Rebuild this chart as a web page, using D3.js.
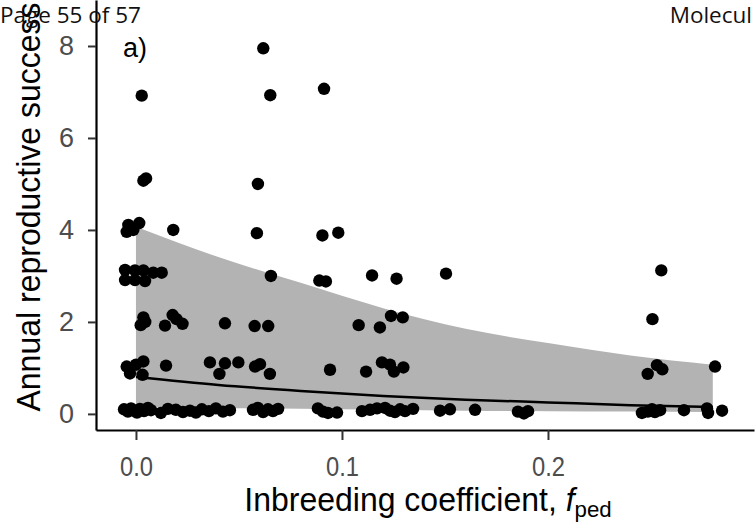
<!DOCTYPE html>
<html>
<head>
<meta charset="utf-8">
<script src="https://cdn.jsdelivr.net/npm/d3@7.9.0/dist/d3.min.js"></script>
<style>
  body { margin: 0; background: #fff; }
  svg { display: block; }
  .sans { font-family: "Liberation Sans", Arial, sans-serif; }
</style>
</head>
<body>
<svg id="chart" width="755" height="524"></svg>
<script>
// fitted curve and its band at a few f values
const bandF = [0, 0.04, 0.08, 0.12, 0.16, 0.2, 0.24, 0.28];
const fitMean = [0.80, 0.63, 0.50, 0.39, 0.31, 0.25, 0.19, 0.15];
const bandLow = [0.15, 0.13, 0.11, 0.09, 0.07, 0.06, 0.05, 0.04];
const bandHigh = [4.07, 3.41, 2.85, 2.30, 1.85, 1.54, 1.27, 1.07];

// individual points (jittered as in the figure)
const pointF = [
  0.0618, 0.0028, 0.0652, 0.0913, 0.0036, 0.0049, 0.0592,
  -0.0037, 0.0016, -0.0045, -0.0013, 0.0181, 0.0587, 0.0905, 0.0982,
  -0.0053, -0.0053, -0.0005, -0.0005, 0.0036, 0.0044, 0.0084, 0.0125, 0.0655, 0.0890, 0.0922, 0.1146, 0.1265, 0.1505, 0.2550,
  0.0036, 0.0023, 0.0045, 0.0141, 0.0178, 0.0197, 0.0226, 0.0432, 0.0576, 0.0642, 0.1081, 0.1184, 0.1238, 0.1295, 0.2507,
  -0.0045, -0.0029, 0.0000, 0.0036, 0.0032, 0.0146, 0.0359, 0.0405, 0.0432, 0.0497, 0.0578, 0.0602, 0.0650, 0.0942, 0.1117, 0.1194, 0.1233, 0.1252, 0.1298, 0.2484, 0.2529, 0.2555, 0.2811,
  -0.0058, -0.0039, -0.0024, -0.0010, 0.0005, 0.0019, 0.0039, 0.0058, 0.0073,
  0.0121, 0.0155, 0.0194, 0.0228, 0.0262, 0.0291, 0.0320, 0.0354, 0.0388, 0.0422, 0.0456,
  0.0568, 0.0592, 0.0617, 0.0641, 0.0665, 0.0690,
  0.0883, 0.0908, 0.0932, 0.0976,
  0.1097, 0.1136, 0.1170, 0.1209, 0.1233, 0.1257, 0.1282, 0.1306, 0.1345,
  0.1476, 0.1524, 0.1646, 0.1854, 0.1883, 0.1903,
  0.2456, 0.2485, 0.2505, 0.2519, 0.2544, 0.2660, 0.2772, 0.2777, 0.2845
];
const pointY = [
  7.95, 6.92, 6.93, 7.07, 5.07, 5.12, 5.00,
  4.11, 4.15, 3.96, 4.00, 4.00, 3.93, 3.88, 3.94,
  3.13, 2.91, 3.12, 2.91, 3.12, 2.89, 3.07, 3.07, 3.00, 2.90, 2.88, 3.01, 2.94, 3.05, 3.12,
  2.10, 1.93, 2.00, 1.92, 2.15, 2.06, 1.96, 1.97, 1.91, 1.91, 1.93, 1.88, 2.13, 2.10, 2.06,
  1.03, 0.88, 1.07, 1.14, 0.85, 1.05, 1.12, 0.87, 1.10, 1.12, 1.03, 1.08, 0.87, 0.96, 0.92, 1.12, 1.07, 0.92, 1.01, 0.87, 1.06, 0.97, 1.03,
  0.10, 0.05, 0.12, 0.07, 0.03, 0.11, 0.06, 0.13, 0.08,
  0.02, 0.11, 0.09, 0.04, 0.07, 0.03, 0.10, 0.06, 0.12, 0.05, 0.08,
  0.09, 0.13, 0.04, 0.10, 0.06, 0.11,
  0.12, 0.05, 0.02, 0.03,
  0.06, 0.09, 0.12, 0.13, 0.07, 0.04, 0.10, 0.06, 0.11,
  0.07, 0.10, 0.09, 0.05, 0.01, 0.06,
  0.02, 0.05, 0.10, 0.04, 0.08, 0.08, 0.12, 0.02, 0.07
];

const xTicks = [0, 0.1, 0.2];
const yTicks = [0, 2, 4, 6, 8];

const svg = d3.select('#chart');

const x = d3.scaleLinear().domain([-0.0194, 0.3]).range([96, 754]);
const y = d3.scaleLinear().domain([-0.35, 9]).range([430, 0]);

const band = bandF.map((f, i) => ({ f, lo: bandLow[i], hi: bandHigh[i], m: fitMean[i] }));

svg.append('path')
  .datum(band)
  .attr('fill', '#b3b3b3')
  .attr('d', d3.area().curve(d3.curveMonotoneX)
    .x(d => x(d.f)).y0(d => y(d.lo)).y1(d => y(d.hi)));

svg.append('path')
  .datum(band)
  .attr('fill', 'none')
  .attr('stroke', '#000')
  .attr('stroke-width', 2.5)
  .attr('d', d3.line().curve(d3.curveMonotoneX).x(d => x(d.f)).y(d => y(d.m)));

svg.append('g')
  .selectAll('circle')
  .data(pointF.map((f, i) => [f, pointY[i]]))
  .join('circle')
  .attr('cx', d => x(d[0]))
  .attr('cy', d => y(d[1]))
  .attr('r', 6.2)
  .attr('fill', '#000');

// axes
const xAxis = svg.append('g')
  .attr('transform', 'translate(0,430)')
  .call(d3.axisBottom(x).tickValues(xTicks).tickFormat(d3.format('.1f'))
    .tickSize(10).tickSizeOuter(0).tickPadding(15));

const yAxis = svg.append('g')
  .attr('transform', 'translate(96,0)')
  .call(d3.axisLeft(y).tickValues(yTicks).tickFormat(d3.format('d'))
    .tickSize(8).tickSizeOuter(0).tickPadding(14));

[xAxis, yAxis].forEach(g => {
  g.attr('font-size', null).attr('font-family', null).attr('class', 'sans');
  g.select('.domain').attr('stroke', '#000').attr('stroke-width', 2.2);
  g.selectAll('.tick line').attr('stroke', '#333').attr('stroke-width', 2);
  g.selectAll('.tick text').attr('fill', '#4d4d4d').attr('font-size', 27);
});
xAxis.selectAll('.tick text').attr('transform', 'scale(0.88,1.05)');

// titles
const xt = svg.append('text')
  .attr('class', 'sans')
  .attr('transform', 'translate(428,511) scale(0.97,1)')
  .attr('text-anchor', 'middle')
  .attr('font-size', 33)
  .attr('fill', '#000');
xt.append('tspan').text('Inbreeding coefficient, ');
xt.append('tspan').attr('font-style', 'italic').text('f');
xt.append('tspan').attr('font-size', 23).attr('dy', 6).text('ped');

svg.append('text')
  .attr('class', 'sans')
  .attr('transform', 'translate(40,207) rotate(-90) scale(0.97,1)')
  .attr('text-anchor', 'middle')
  .attr('font-size', 33)
  .attr('fill', '#000')
  .text('Annual reproductive success');

svg.append('text')
  .attr('class', 'sans')
  .attr('x', 123).attr('y', 57)
  .attr('font-size', 27)
  .attr('fill', '#000')
  .text('a)');

// page header of the source document
svg.append('text')
  .attr('x', 0).attr('y', 23)
  .attr('font-family', '"Open Sans", sans-serif')
  .attr('font-size', 22.5)
  .attr('fill', '#111')
  .text('Page 55 of 57');

svg.append('text')
  .attr('x', 752).attr('y', 23)
  .attr('text-anchor', 'end')
  .attr('font-family', '"Open Sans", sans-serif')
  .attr('font-size', 22.5)
  .attr('fill', '#111')
  .text('Molecul');
</script>
</body>
</html>
